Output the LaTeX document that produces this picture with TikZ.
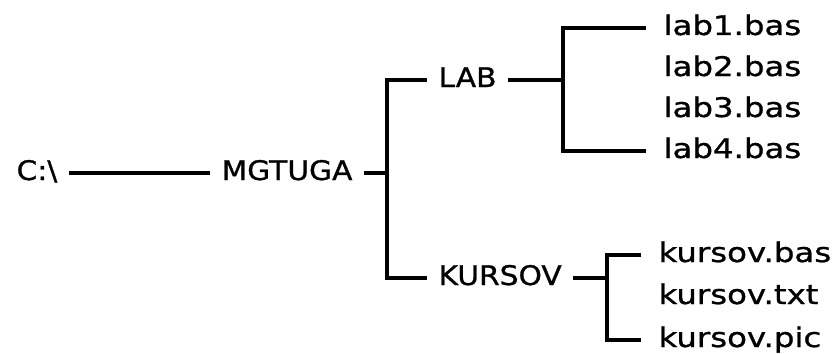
\documentclass[tikz,border=0pt]{standalone}
\usepackage{fontspec}
\setmainfont[FakeStretch=1.1, FakeBold=1]{DejaVu Sans}
\newfontfamily\filefont[FakeStretch=1.2, FakeBold=1]{DejaVu Sans}
\begin{document}
\begin{tikzpicture}[x=1pt, y=-1pt, line width=3.2pt,
        dir/.style={anchor=base west, inner xsep=10pt, inner ysep=0pt,
            text height=20pt, text depth=6pt, font=\fontsize{27}{30}\selectfont},
        file/.style={dir, inner xsep=16pt, font=\fontsize{27}{30}\filefont}]
        \useasboundingbox (0, 0) rectangle (834, 353);
        % tree levels
        \node[dir] (cdrive) at (5, 180) {C:\textbackslash};
        \node[dir] (mgtuga) at (210, 180) {MGTUGA};
        \node[dir] (lab) at (427, 87) {LAB};
        \node[dir] (kursov) at (427, 285) {KURSOV};
        \node[file] (lab1) at (646, 35) {lab1.bas};
        \node[file] (lab2) at (646, 76) {lab2.bas};
        \node[file] (lab3) at (646, 117) {lab3.bas};
        \node[file] (lab4) at (646, 158) {lab4.bas};
        \node[file] (kbas) at (641, 262) {kursov.bas};
        \node[file] (ktxt) at (641, 304) {kursov.txt};
        \node[file] (kpic) at (641, 347) {kursov.pic};
        % branches
        \coordinate (j1) at (387, 173);
        \coordinate (j2) at (563, 80);
        \coordinate (j3) at (607, 278);
        \draw (cdrive.east) -- (mgtuga.west);
        \draw (mgtuga.east) -- (j1);
        \draw (lab.west) -| (j1) |- (kursov.west);
        \draw (lab.east) -- (j2);
        \draw (lab1.west) -| (j2) |- (lab4.west);
        \draw (kursov.east) -- (j3);
        \draw (kbas.west) -| (j3) |- (kpic.west);
    \end{tikzpicture}
\end{document}
